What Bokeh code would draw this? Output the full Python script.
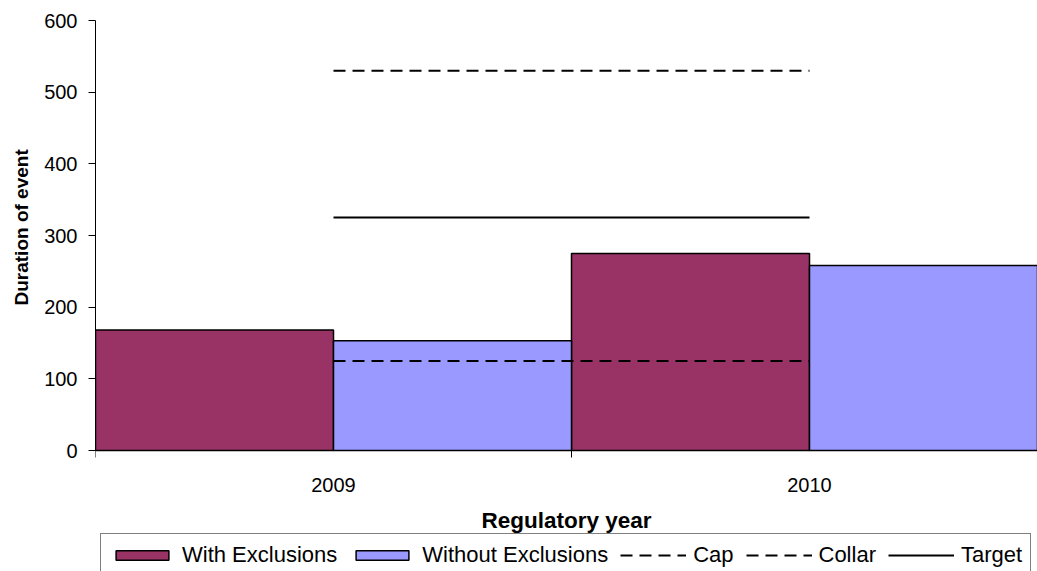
from bokeh.plotting import figure
from bokeh.models import (Range1d, FixedTicker, Legend, LegendItem,
                          ColumnDataSource, Title)
from bokeh.embed import file_html
from bokeh.resources import INLINE

# Regulatory years and event durations
years = ["2009", "2010"]
with_exclusions = [168, 275]
without_exclusions = [153, 258]
cap = [530, 530]
collar = [125, 125]
target = [325, 325]
y_ticks = [0, 100, 200, 300, 400, 500, 600]

FONT = "Liberation Sans"

centers = [i + 0.5 for i in range(len(years))]
bars = ColumnDataSource(dict(
    x_with=[c - 0.25 for c in centers],
    x_without=[c + 0.25 for c in centers],
    with_excl=with_exclusions,
    without_excl=without_exclusions,
))
levels = ColumnDataSource(dict(x=centers, cap=cap, collar=collar, target=target))

# The frame runs to the bottom of the canvas: the value axis occupies the
# upper 430 px, the year axis and the legend sit in the strip underneath.
PLOT_H, FRAME_TOP, AXIS_H = 571, 20, 430
y_min = -(PLOT_H - FRAME_TOP - AXIS_H) * 600 / AXIS_H

p = figure(width=1037, height=PLOT_H, output_backend="svg",
           toolbar_location=None,
           x_range=Range1d(0, 942 / 476), y_range=Range1d(y_min, 600),
           min_border_left=95, min_border_right=0, min_border_top=FRAME_TOP,
           min_border_bottom=0, background_fill_color="white",
           border_fill_color="white", outline_line_color=None)

p.xgrid.visible = False
p.ygrid.visible = False

r_with = p.vbar(x="x_with", top="with_excl", width=0.5, source=bars,
                fill_color="#993366", line_color="black", line_width=1.5)
r_without = p.vbar(x="x_without", top="without_excl", width=0.5, source=bars,
                   fill_color="#9999FF", line_color="black", line_width=1.5)

r_cap = p.line(x="x", y="cap", source=levels, line_color="black",
               line_width=2, line_dash="12 7")
r_collar = p.line(x="x", y="collar", source=levels, line_color="black",
                  line_width=2, line_dash="12 7")
r_target = p.line(x="x", y="target", source=levels, line_color="black",
                  line_width=2)

# x axis pinned at zero: year labels at category centres,
# tick marks at category boundaries
xa = p.xaxis[0]
xa.fixed_location = 0
xa.ticker = FixedTicker(ticks=centers, minor_ticks=[0, 1, 2])
xa.major_label_overrides = {c: y for c, y in zip(centers, years)}
xa.major_tick_out = 0
xa.major_tick_in = 0
xa.minor_tick_out = 7
xa.minor_tick_in = 0
xa.minor_tick_line_color = "black"
xa.axis_line_color = "black"
xa.major_label_standoff = 20
xa.major_label_text_font = FONT
xa.major_label_text_font_size = "20px"
xa.major_label_text_color = "black"
xa.axis_label = "Regulatory year"
xa.axis_label_text_font = FONT
xa.axis_label_text_font_size = "22.5px"
xa.axis_label_text_font_style = "bold"
xa.axis_label_text_color = "black"
xa.axis_label_standoff = 13

ya = p.yaxis[0]
ya.bounds = (0, 600)
ya.ticker = FixedTicker(ticks=y_ticks)
ya.major_tick_out = 7
ya.major_tick_in = 0
ya.minor_tick_line_color = None
ya.axis_line_color = "black"
ya.major_label_standoff = 11
ya.major_label_text_font = FONT
ya.major_label_text_font_size = "20px"
ya.major_label_text_color = "black"

# value-axis title, centred on the 0-600 span rather than the whole frame
y_title = Title(text="Duration of event", align="left", offset=266,
                vertical_align="top",
                text_font=FONT, text_font_size="19px", text_font_style="bold",
                text_color="black", standoff=16)
p.add_layout(y_title, "left")

legend = Legend(items=[
    LegendItem(label="With Exclusions", renderers=[r_with]),
    LegendItem(label="Without Exclusions", renderers=[r_without]),
    LegendItem(label="Cap", renderers=[r_cap]),
    LegendItem(label="Collar", renderers=[r_collar]),
    LegendItem(label="Target", renderers=[r_target]),
], orientation="horizontal", location=(5, -6))
legend.glyph_width = 66
legend.glyph_height = 12
legend.label_standoff = 7
legend.spacing = 12
legend.padding = 8
legend.margin = 0
legend.label_text_font = FONT
legend.label_text_font_size = "22px"
legend.label_text_color = "black"
legend.border_line_color = "black"
legend.border_line_width = 1
legend.background_fill_color = "white"
legend.background_fill_alpha = 1
p.add_layout(legend)

open("out.html", "w").write(file_html(p, INLINE))
